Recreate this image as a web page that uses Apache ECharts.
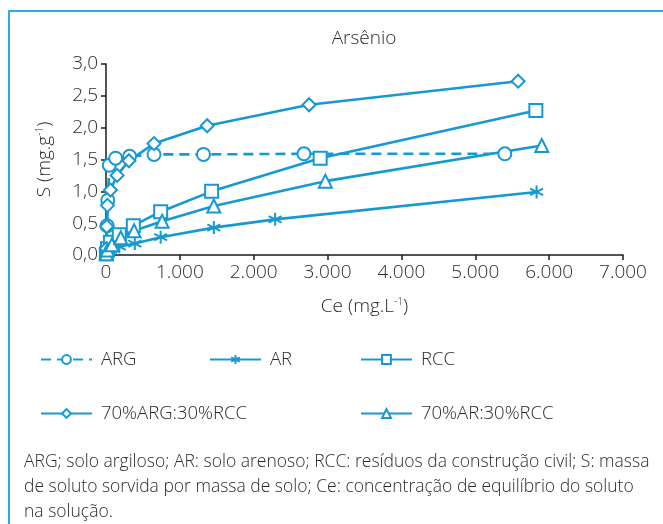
<!DOCTYPE html>
<html>
<head>
<meta charset="utf-8">
<script src="https://cdn.jsdelivr.net/npm/echarts@6/dist/echarts.min.js"></script>
<style>
  html, body { margin: 0; padding: 0; background: #fff; }
  #chart { width: 663px; height: 524px; }
</style>
</head>
<body>
<div id="chart"></div>
<script>
// Sorption isotherms for arsenic: S (mg/g) versus Ce (mg/L)
const seriesNames = ['ARG', 'AR', 'RCC', '70%ARG:30%RCC', '70%AR:30%RCC'];

const argCe = [5, 15, 25, 45, 130, 320, 650, 1320, 2680, 5400];
const argS  = [0.05, 0.46, 0.86, 1.41, 1.52, 1.55, 1.58, 1.58, 1.59, 1.59];

const arCe = [5, 20, 60, 180, 390, 740, 1460, 2290, 5830];
const arS  = [0.01, 0.04, 0.08, 0.13, 0.18, 0.28, 0.43, 0.56, 0.99];

const rccCe = [5, 20, 60, 180, 370, 740, 1430, 2900, 5820];
const rccS  = [0.02, 0.10, 0.20, 0.32, 0.46, 0.68, 1.00, 1.52, 2.27];

const mixArgCe = [5, 10, 20, 60, 150, 310, 650, 1370, 2750, 5580];
const mixArgS  = [0.10, 0.45, 0.78, 1.02, 1.25, 1.48, 1.75, 2.03, 2.36, 2.73];

const mixArCe = [5, 20, 80, 200, 380, 760, 1460, 2970, 5900];
const mixArS  = [0.02, 0.08, 0.16, 0.27, 0.38, 0.53, 0.77, 1.16, 1.72];

const xTicks = { min: 0, max: 7000, step: 1000 };
const yTicks = { min: 0, max: 3, step: 0.5 };

const footnoteLines = [
  'ARG; solo argiloso; AR: solo arenoso; RCC: resíduos da construção civil; S: massa',
  'de soluto sorvida por massa de solo; Ce: concentração de equilíbrio do soluto',
  'na solução.'
];

const BLUE = '#1699d3';
const FONT = 'Open Sans';
const TEXT = '#2b2b2b';
const FS = 19;

function pairs(xs, ys) { return xs.map((x, i) => [x, ys[i]]); }

const asterisk = 'path://M0,-10L0,10M-8.66,-5L8.66,5M-8.66,5L8.66,-5';

function mkSeries(name, xs, ys, symbol, dashed) {
  return {
    name: name,
    type: 'line',
    data: pairs(xs, ys),
    symbol: symbol,
    symbolSize: 13,
    showAllSymbol: true,
    lineStyle: { color: BLUE, width: 2.6, type: dashed ? [10, 6] : 'solid' },
    itemStyle: { color: BLUE, borderColor: BLUE, borderWidth: 2 },
    emphasis: { disabled: true },
    animation: false
  };
}

function legendAt(name, left, top) {
  return {
    data: [name],
    left: left, top: top,
    itemWidth: 51, itemHeight: 11,
    itemGap: 0,
    textStyle: { fontFamily: FONT, fontSize: 18.5, color: TEXT, fontWeight: 300, padding: [0, 0, 0, 4] },
    selectedMode: false
  };
}

const nameRich = {
  s: { fontFamily: FONT, fontSize: 10, color: TEXT, verticalAlign: 'top', padding: [0, 0, 9, 0] },
  a: { fontFamily: FONT, fontSize: FS, color: TEXT, fontWeight: 300 }
};

const chart = echarts.init(document.getElementById('chart'), null, { renderer: 'canvas' });

chart.setOption({
  backgroundColor: '#fff',
  animation: false,
  title: {
    text: 'Arsênio',
    left: 359, top: 24, textAlign: 'center',
    textStyle: { fontFamily: FONT, fontSize: FS, fontWeight: 300, color: TEXT }
  },
  grid: { left: 106, right: 40, top: 64, bottom: 269, containLabel: false },
  xAxis: {
    type: 'value',
    min: xTicks.min, max: xTicks.max, interval: xTicks.step,
    name: '{a|Ce (mg.L}{s|-1}{a|)}',
    nameLocation: 'middle', nameGap: 42,
    nameTextStyle: { fontFamily: FONT, fontSize: FS, color: TEXT, fontWeight: 300, rich: nameRich },
    axisLine: { lineStyle: { color: '#1a1a1a', width: 1.5 } },
    axisTick: { show: true, inside: false, length: 5, lineStyle: { color: '#1a1a1a', width: 1.5 } },
    axisLabel: {
      fontFamily: FONT, fontSize: FS, color: TEXT, fontWeight: 300, margin: 8,
      formatter: v => v === 0 ? '0' : (v / 1000) + '.000'
    },
    splitLine: { show: false }
  },
  yAxis: {
    type: 'value',
    min: yTicks.min, max: yTicks.max, interval: yTicks.step,
    name: '{a|S (mg.g}{s|-1}{a|)}',
    nameLocation: 'middle', nameGap: 52, nameRotate: 90,
    nameTextStyle: { fontFamily: FONT, fontSize: FS, color: TEXT, fontWeight: 300, rich: nameRich },
    axisLine: { show: true, lineStyle: { color: '#1a1a1a', width: 1.5 } },
    axisTick: { show: true, inside: false, length: 5, lineStyle: { color: '#1a1a1a', width: 1.5 } },
    axisLabel: {
      fontFamily: FONT, fontSize: FS, color: TEXT, fontWeight: 300, margin: 8,
      formatter: v => v.toFixed(1).replace('.', ',')
    },
    splitLine: { show: false }
  },
  legend: [
    legendAt(seriesNames[0], 35, 345),
    legendAt(seriesNames[1], 204, 345),
    legendAt(seriesNames[2], 355, 345),
    legendAt(seriesNames[3], 35, 399),
    legendAt(seriesNames[4], 355, 399)
  ],
  series: [
    mkSeries(seriesNames[0], argCe, argS, 'emptyCircle', true),
    mkSeries(seriesNames[1], arCe, arS, asterisk, false),
    mkSeries(seriesNames[2], rccCe, rccS, 'emptyRect', false),
    mkSeries(seriesNames[3], mixArgCe, mixArgS, 'emptyDiamond', false),
    mkSeries(seriesNames[4], mixArCe, mixArS, 'emptyTriangle', false)
  ],
  graphic: [
    {
      type: 'rect', silent: true,
      shape: { x: 9, y: 11, width: 700, height: 600 },
      style: { fill: 'none', stroke: '#2aaee2', lineWidth: 2 }
    }
  ].concat(footnoteLines.map((t, i) => ({
    type: 'text', silent: true,
    left: 24, top: 453 + i * 25,
    style: { text: t, fontFamily: FONT, fontSize: 17.5, fontWeight: 300, fill: TEXT }
  })))
});
</script>
</body>
</html>
